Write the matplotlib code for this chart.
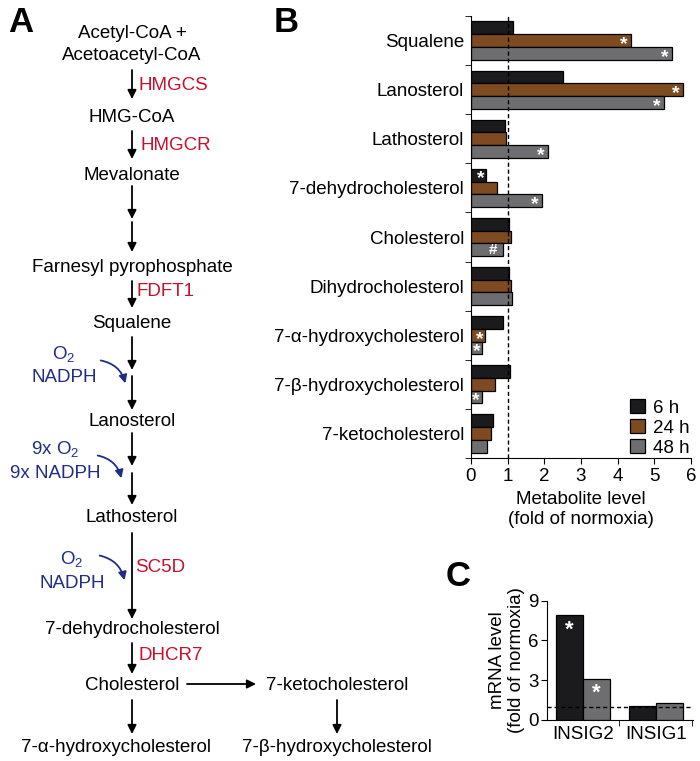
import numpy as np
import matplotlib
matplotlib.use("Agg")
import matplotlib.pyplot as plt
from matplotlib.patches import FancyArrowPatch, Patch

plt.rcParams['font.family'] = ['Liberation Sans', 'DejaVu Sans']
plt.rcParams['mathtext.fontset'] = 'custom'
plt.rcParams['mathtext.rm'] = 'Liberation Sans'
plt.rcParams['mathtext.it'] = 'Liberation Sans'

# =========================
# Data
# =========================
metabolites = ['Squalene', 'Lanosterol', 'Lathosterol', '7-dehydrocholesterol',
               'Cholesterol', 'Dihydrocholesterol', '7-\u03b1-hydroxycholesterol',
               '7-\u03b2-hydroxycholesterol', '7-ketocholesterol']
timepoints = ['6 h', '24 h', '48 h']
level_6h = [1.15, 2.50, 0.93, 0.42, 1.03, 1.03, 0.88, 1.06, 0.60]
level_24h = [4.36, 5.78, 0.95, 0.71, 1.09, 1.09, 0.38, 0.65, 0.55]
level_48h = [5.48, 5.26, 2.09, 1.94, 0.88, 1.13, 0.30, 0.29, 0.44]
# significance marks ('' = none)
mark_6h = ['', '', '', '*', '', '', '', '', '']
mark_24h = ['*', '*', '', '', '', '', '*', '', '']
mark_48h = ['*', '*', '*', '*', '#', '', '*', '*', '']

genes = ['INSIG2', 'INSIG1']
mrna_6h = [7.9, 1.05]
mrna_48h = [3.1, 1.28]
mrna_mark_6h = ['*', '']
mrna_mark_48h = ['*', '']

c_black = '#1b1b1d'
c_brown = '#7e4a20'
c_gray = '#6e6e70'
c_red = '#c8102e'
c_blue = '#1f2d86'
fs = 13.5

fig = plt.figure(figsize=(7, 7.61), dpi=100)

# =========================
# Panel A: pathway (pixel coordinates)
# =========================
axa = fig.add_axes([0, 0, 1, 1])
axa.set_xlim(0, 700)
axa.set_ylim(761, 0)
axa.axis('off')

def node(x, y, s):
    axa.text(x, y, s, ha='center', va='center', fontsize=fs, color='black')

def down(x, y0, y1):
    axa.annotate('', xy=(x, y1), xytext=(x, y0),
                 arrowprops=dict(arrowstyle='-|>', color='black', lw=1.3,
                                 mutation_scale=13, shrinkA=0, shrinkB=0))

def enzyme(x, y, s):
    axa.text(x, y, s, ha='left', va='center', fontsize=fs, color=c_red)

def cofactor(x, y, lines, start, end):
    for dy, s in zip([0, 24], lines):
        axa.text(x, y + dy, s, ha='center', va='center', fontsize=fs, color=c_blue)
    axa.add_patch(FancyArrowPatch(start, end, connectionstyle='arc3,rad=-0.35',
                                  arrowstyle='-|>', mutation_scale=12,
                                  color=c_blue, lw=1.3))

xc = 132
node(xc, 33, 'Acetyl-CoA +')
node(xc, 56, 'Acetoacetyl-CoA')
down(xc, 70, 99); enzyme(138, 85, 'HMGCS')
node(xc, 118, 'HMG-CoA')
down(xc, 131, 159); enzyme(140, 145, 'HMGCR')
node(xc, 175, 'Mevalonate')
down(xc, 186, 219)
down(xc, 222, 252)
node(xc, 268, 'Farnesyl pyrophosphate')
down(xc, 281, 308); enzyme(136, 292, 'FDFT1')
node(xc, 323, 'Squalene')
down(xc, 337, 370)
down(xc, 376, 410)
cofactor(64, 354, ['O$_\\mathregular{2}$', 'NADPH'], (98, 360), (126, 386))
node(xc, 422, 'Lanosterol')
down(xc, 433, 466)
down(xc, 473, 505)
cofactor(55, 449, ['9x O$_\\mathregular{2}$', '9x NADPH'], (95, 455), (122, 481))
node(xc, 517, 'Lathosterol')
down(xc, 533, 619); enzyme(135, 568, 'SC5D')
cofactor(72, 559, ['O$_\\mathregular{2}$', 'NADPH'], (97, 555), (125, 583))
node(xc, 629, '7-dehydrocholesterol')
down(xc, 643, 674); enzyme(139, 655, 'DHCR7')
node(xc, 685, 'Cholesterol')
axa.annotate('', xy=(256, 684), xytext=(187, 684),
             arrowprops=dict(arrowstyle='-|>', color='black', lw=1.3,
                             mutation_scale=13, shrinkA=0, shrinkB=0))
node(337, 685, '7-ketocholesterol')
down(xc, 700, 734)
down(337, 700, 734)
node(116, 747, '7-\u03b1-hydroxycholesterol')
node(337, 747, '7-\u03b2-hydroxycholesterol')

fig.text(8 / 700, 1 - 6 / 761, 'A', fontsize=25, fontweight='bold', va='top', ha='left')
fig.text(274 / 700, 1 - 6 / 761, 'B', fontsize=25, fontweight='bold', va='top', ha='left')
fig.text(446 / 700, 1 - 560 / 761, 'C', fontsize=25, fontweight='bold', va='top', ha='left')

# =========================
# Panel B: metabolite levels
# =========================
axb = fig.add_axes([471 / 700, 1 - 458 / 761, 220 / 700, 442 / 761])
axb.patch.set_alpha(0)
n = len(metabolites)
centers = np.arange(n) + 0.5
h = 0.26
series = [(level_6h, mark_6h, c_black), (level_24h, mark_24h, c_brown), (level_48h, mark_48h, c_gray)]
for k, (vals, marks, col) in enumerate(series):
    ypos = centers + (k - 1) * h
    axb.barh(ypos, vals, height=h, color=col, edgecolor='black', lw=0.9, label=timepoints[k])
    for y, v, m in zip(ypos, vals, marks):
        if m == '*':
            off = 0.2 if v > 1 else 0.15
            axb.text(v - off, y + 0.08, m, ha='center', va='center',
                     color='white', fontsize=14, fontweight='bold')
        elif m:
            axb.text(v - 0.28, y, m, ha='center', va='center',
                     color='white', fontsize=11, fontweight='bold')
axb.axvline(1, color='black', ls=(0, (3, 2)), lw=1.0)
axb.set_xlim(0, 6)
axb.set_ylim(n, 0)
axb.set_yticks(centers)
axb.set_yticklabels(metabolites, fontsize=fs)
axb.set_yticks(np.arange(n + 1), minor=True)
axb.tick_params(axis='y', which='major', length=0, pad=5)
axb.tick_params(axis='y', which='minor', length=4, direction='out')
axb.set_xticks(range(7))
axb.tick_params(axis='x', labelsize=fs, length=4, direction='out')
axb.set_xlabel('Metabolite level\n(fold of normoxia)', fontsize=fs, labelpad=4)
for s in ['top', 'right']:
    axb.spines[s].set_visible(False)
handles = [Patch(facecolor=c, edgecolor='black', lw=0.9) for c in [c_black, c_brown, c_gray]]
axb.legend(handles, timepoints, loc='lower right', bbox_to_anchor=(1.07, -0.035), frameon=False,
           fontsize=fs, handlelength=0.8, handleheight=0.8, handletextpad=0.4, labelspacing=0.12)

# =========================
# Panel C: mRNA levels
# =========================
axc = fig.add_axes([547 / 700, 1 - 720 / 761, 146 / 700, 119.3 / 761])
axc.patch.set_alpha(0)
gx = np.arange(len(genes))
w = 0.37
axc.bar(gx, mrna_6h, width=-w, align='edge', color=c_black, edgecolor='black', lw=0.9)
axc.bar(gx, mrna_48h, width=w, align='edge', color=c_gray, edgecolor='black', lw=0.9)
for x, v, m in zip(gx, mrna_6h, mrna_mark_6h):
    if m:
        axc.text(x - w / 2, v - 1.1, m, ha='center', va='center', color='white', fontsize=16, fontweight='bold')
for x, v, m in zip(gx, mrna_48h, mrna_mark_48h):
    if m:
        axc.text(x + w / 2, v - 1.1, m, ha='center', va='center', color='white', fontsize=16, fontweight='bold')
axc.axhline(0.98, color='black', ls=(0, (3, 2)), lw=1.0)
axc.set_xlim(-0.49, 1.51)
axc.set_ylim(0, 9)
axc.set_yticks([0, 3, 6, 9])
axc.tick_params(axis='y', labelsize=fs, length=4, direction='out', pad=2)
axc.set_xticks(gx)
axc.set_xticklabels(genes, fontsize=fs)
axc.set_xticks([0.5, 1.5], minor=True)
axc.tick_params(axis='x', which='major', length=0, pad=4)
axc.tick_params(axis='x', which='minor', length=4, direction='out')
axc.set_ylabel('mRNA level\n(fold of normoxia)', fontsize=fs, labelpad=2)
for s in ['top', 'right']:
    axc.spines[s].set_visible(False)

fig.savefig('out.png', dpi=100)
